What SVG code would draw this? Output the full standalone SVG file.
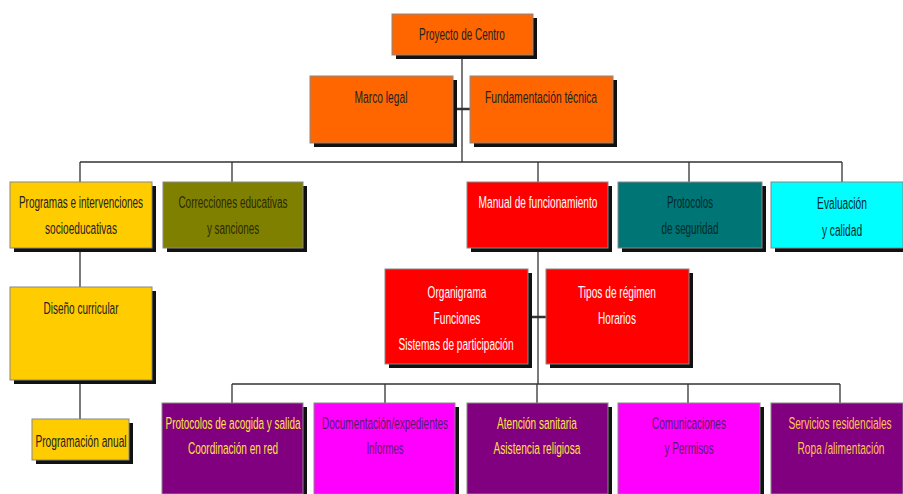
<svg xmlns="http://www.w3.org/2000/svg" width="903" height="494" viewBox="0 0 903 494">
<style>
.sh{fill:#111}
.bx{stroke:#888;stroke-width:1}
.t{font-family:"Liberation Sans",Arial,sans-serif;font-size:17px;text-anchor:middle;dominant-baseline:central}
.ln{stroke:#333;stroke-width:1.3;fill:none}
.lk{stroke:#333;stroke-width:2.5;fill:none}
.or{fill:#FF6600}.ye{fill:#FFCC00}.ol{fill:#808000}.rd{fill:#FF0000}.tl{fill:#007575}.cy{fill:#00FFFF}.pu{fill:#800080}.mg{fill:#FF00FF}
.dk{fill:#222}.wh{fill:#fff}.yt{fill:#FFE040}.ytb{fill:#FFC050}.pt{fill:#5a1a6a}.olt{fill:#2a2a00}.tlt{fill:#002a2a}
</style>
<rect width="903" height="494" fill="#fff"/>
<g id="connectors">
<path class="ln" d="M462 55V162M80 162H842M80 162V182M232 162V182M538 162V182M689 162V182M842 162V182"/>
<path class="lk" d="M453 109H470"/>
<path class="ln" d="M80 248V287M80 380V419"/>
<path class="ln" d="M538 248V384M232 384H840M232 384V403M385 384V403M537 384V403M688 384V403M840 384V403"/>
<path class="lk" d="M528 317H546"/>
</g>
<g id="proyecto"><rect class="sh" x="396" y="18" width="141" height="41"/><rect class="bx or" x="392" y="14" width="141" height="41"/><text class="t dk" transform="translate(462 34) scale(.6 1)" textLength="143" lengthAdjust="spacingAndGlyphs">Proyecto de Centro</text></g>
<g id="marco"><rect class="sh" x="314" y="80" width="143" height="67"/><rect class="bx or" x="310" y="76" width="143" height="67"/><text class="t dk" transform="translate(381 97) scale(.6 1)" textLength="88" lengthAdjust="spacingAndGlyphs">Marco legal</text></g>
<g id="fundamentacion"><rect class="sh" x="474" y="80" width="143" height="67"/><rect class="bx or" x="470" y="76" width="143" height="67"/><text class="t dk" transform="translate(541 97) scale(.6 1)" textLength="187" lengthAdjust="spacingAndGlyphs">Fundamentación técnica</text></g>
<g id="programas"><rect class="sh" x="14" y="186" width="142" height="66"/><rect class="bx ye" x="10" y="182" width="142" height="66"/><text class="t dk" transform="translate(81 202) scale(.6 1)" textLength="207" lengthAdjust="spacingAndGlyphs">Programas e intervenciones</text><text class="t dk" transform="translate(81 228) scale(.6 1)" textLength="120" lengthAdjust="spacingAndGlyphs">socioeducativas</text></g>
<g id="correcciones"><rect class="sh" x="167" y="186" width="140" height="66"/><rect class="bx ol" x="163" y="182" width="140" height="66"/><text class="t olt" transform="translate(233 202) scale(.6 1)" textLength="182" lengthAdjust="spacingAndGlyphs">Correcciones educativas</text><text class="t olt" transform="translate(233 228) scale(.6 1)" textLength="87" lengthAdjust="spacingAndGlyphs">y sanciones</text></g>
<g id="manual"><rect class="sh" x="471" y="186" width="141" height="66"/><rect class="bx rd" x="467" y="182" width="141" height="66"/><text class="t wh" transform="translate(538 202) scale(.6 1)" textLength="198" lengthAdjust="spacingAndGlyphs">Manual de funcionamiento</text></g>
<g id="protocolos-seg"><rect class="sh" x="622" y="186" width="144" height="66"/><rect class="bx tl" x="618" y="182" width="144" height="66"/><text class="t tlt" transform="translate(690 202) scale(.6 1)" textLength="77" lengthAdjust="spacingAndGlyphs">Protocolos</text><text class="t tlt" transform="translate(690 228) scale(.6 1)" textLength="95" lengthAdjust="spacingAndGlyphs">de seguridad</text></g>
<g id="evaluacion"><rect class="sh" x="775" y="186" width="128" height="66"/><rect class="bx cy" x="771" y="182" width="132" height="66"/><text class="t tlt" transform="translate(842 203) scale(.6 1)" textLength="83" lengthAdjust="spacingAndGlyphs">Evaluación</text><text class="t tlt" transform="translate(842 230) scale(.6 1)" textLength="67" lengthAdjust="spacingAndGlyphs">y calidad</text></g>
<g id="diseno"><rect class="sh" x="14" y="291" width="142" height="93"/><rect class="bx ye" x="10" y="287" width="142" height="93"/><text class="t dk" transform="translate(81 308) scale(.6 1)" textLength="125" lengthAdjust="spacingAndGlyphs">Diseño curricular</text></g>
<g id="organigrama"><rect class="sh" x="389" y="273" width="143" height="95"/><rect class="bx rd" x="385" y="269" width="143" height="95"/><text class="t wh" transform="translate(457 292) scale(.6 1)" textLength="98" lengthAdjust="spacingAndGlyphs">Organigrama</text><text class="t wh" transform="translate(457 318) scale(.6 1)" textLength="78" lengthAdjust="spacingAndGlyphs">Funciones</text><text class="t wh" transform="translate(456 344) scale(.6 1)" textLength="192" lengthAdjust="spacingAndGlyphs">Sistemas de participación</text></g>
<g id="tipos"><rect class="sh" x="550" y="273" width="143" height="95"/><rect class="bx rd" x="546" y="269" width="143" height="95"/><text class="t wh" transform="translate(617 292) scale(.6 1)" textLength="130" lengthAdjust="spacingAndGlyphs">Tipos de régimen</text><text class="t wh" transform="translate(617 318) scale(.6 1)" textLength="63" lengthAdjust="spacingAndGlyphs">Horarios</text></g>
<g id="programacion"><rect class="sh" x="36" y="423" width="97" height="41"/><rect class="bx ye" x="32" y="419" width="97" height="41"/><text class="t dk" transform="translate(81 441) scale(.6 1)" textLength="152" lengthAdjust="spacingAndGlyphs">Programación anual</text></g>
<g id="acogida"><rect class="sh" x="166" y="407" width="141" height="90"/><rect class="bx pu" x="162" y="403" width="141" height="91"/><text class="t yt" transform="translate(233 423) scale(.6 1)" textLength="225" lengthAdjust="spacingAndGlyphs">Protocolos de acogida y salida</text><text class="t yt" transform="translate(233 448) scale(.6 1)" textLength="150" lengthAdjust="spacingAndGlyphs">Coordinación en red</text></g>
<g id="documentacion"><rect class="sh" x="318" y="407" width="141" height="90"/><rect class="bx mg" x="314" y="403" width="141" height="91"/><text class="t pt" transform="translate(385 423) scale(.6 1)" textLength="210" lengthAdjust="spacingAndGlyphs">Documentación/expedientes</text><text class="t pt" transform="translate(385 448) scale(.6 1)" textLength="62" lengthAdjust="spacingAndGlyphs">Informes</text></g>
<g id="atencion"><rect class="sh" x="471" y="407" width="141" height="90"/><rect class="bx pu" x="467" y="403" width="141" height="91"/><text class="t yt" transform="translate(537 423) scale(.6 1)" textLength="133" lengthAdjust="spacingAndGlyphs">Atención sanitaria</text><text class="t yt" transform="translate(537 448) scale(.6 1)" textLength="145" lengthAdjust="spacingAndGlyphs">Asistencia religiosa</text></g>
<g id="comunicaciones"><rect class="sh" x="622" y="407" width="142" height="90"/><rect class="bx mg" x="618" y="403" width="142" height="91"/><text class="t pt" transform="translate(689 423) scale(.6 1)" textLength="123" lengthAdjust="spacingAndGlyphs">Comunicaciones</text><text class="t pt" transform="translate(689 448) scale(.6 1)" textLength="82" lengthAdjust="spacingAndGlyphs">y Permisos</text></g>
<g id="servicios"><rect class="sh" x="775" y="407" width="128" height="90"/><rect class="bx pu" x="771" y="403" width="132" height="91"/><text class="t ytb" transform="translate(840 423) scale(.6 1)" textLength="172" lengthAdjust="spacingAndGlyphs">Servicios residenciales</text><text class="t ytb" transform="translate(841 448) scale(.6 1)" textLength="145" lengthAdjust="spacingAndGlyphs">Ropa /alimentación</text></g>
</svg>
